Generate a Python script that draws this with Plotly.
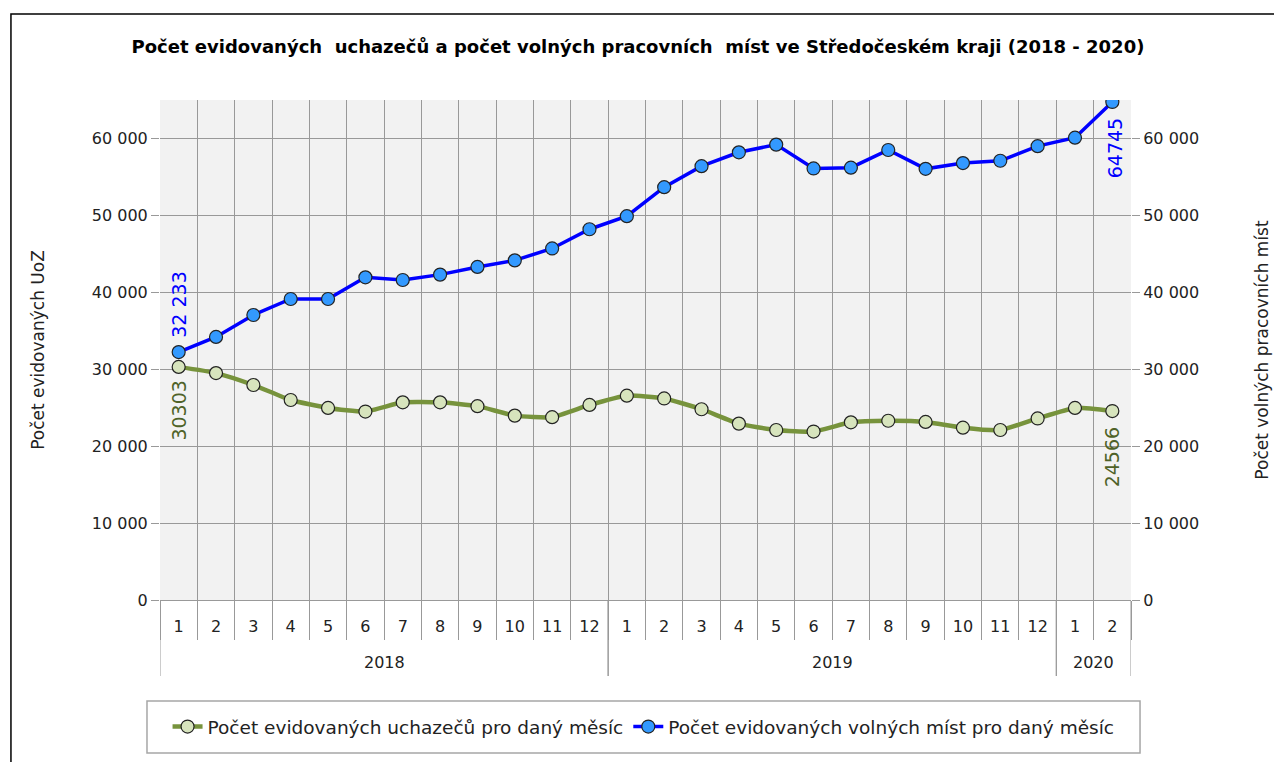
import plotly.graph_objects as go

years = ["2018"] * 12 + ["2019"] * 12 + ["2020"] * 2
months = [str(m) for m in range(1, 13)] * 2 + ["1", "2"]

uchazeci = [30303, 29500, 27950, 26000, 24970, 24500, 25700, 25700, 25200, 23970, 23770, 25360,
            26560, 26200, 24800, 22930, 22100, 21900, 23100, 23300, 23150, 22400, 22100, 23600,
            24970, 24566]
volna_mista = [32233, 34200, 37050, 39130, 39130, 41950, 41600, 42300, 43300, 44150, 45700, 48200,
               49900, 53670, 56400, 58200, 59200, 56100, 56200, 58500, 56050, 56800, 57100, 59000,
               60100, 64745]

name_uch = "Počet evidovaných uchazečů pro daný měsíc"
name_vm = "Počet evidovaných volných míst pro daný měsíc"
title = "Počet evidovaných  uchazečů a počet volných pracovních  míst ve Středočeském kraji (2018 - 2020)"

FONT = "DejaVu Sans"
GREEN = "#77933c"
BLUE = "#0000ff"
GRID = "#999999"

n = len(months)
idx = list(range(n))

fig = go.Figure()
fig.add_trace(go.Scatter(
    x=idx, y=uchazeci, name=name_uch, mode="lines+markers",
    line=dict(color=GREEN, width=4.5, shape="spline", smoothing=0.5),
    marker=dict(size=13, color="#d7e4bd", line=dict(color="#222222", width=1.2)),
))
fig.add_trace(go.Scatter(
    x=idx, y=volna_mista, name=name_vm, mode="lines+markers", yaxis="y2",
    line=dict(color=BLUE, width=3.5),
    marker=dict(size=13, color="#3399ff", line=dict(color="#222222", width=1.2)),
))

# first / last value labels, rotated like the original
labels = [
    (0, volna_mista[0], "y2", "32 233", BLUE, "bottom", 12, 0),
    (0, uchazeci[0], "y", str(uchazeci[0]), "#4f6228", "top", -12, 0),
    (n - 1, volna_mista[-1], "y2", str(volna_mista[-1]), BLUE, "top", -14, 3),
    (n - 1, uchazeci[-1], "y", str(uchazeci[-1]), "#4f6228", "top", -14, 0),
]
annotations = []
for xi, val, yref, txt, col, yanch, ysh, xsh in labels:
    annotations.append(dict(
        x=xi, y=val, xref="x", yref=yref, text=txt, showarrow=False,
        textangle=-90, yanchor=yanch, yshift=ysh, xshift=xsh,
        font=dict(family=FONT, size=19, color=col),
    ))

# year labels and dividers under the month labels
shapes = []
groups = []
for i, y in enumerate(years):
    if not groups or groups[-1][0] != y:
        groups.append([y, i, i])
    else:
        groups[-1][2] = i
for y, a, b in groups:
    annotations.append(dict(x=(a + b) / 2, y=-0.124, xref="x", yref="paper", text=y,
                            showarrow=False, yanchor="middle",
                            font=dict(family=FONT, size=16, color="#222222")))
    for edge in (a - 0.5, b + 0.5):
        shapes.append(dict(type="line", xref="x", yref="paper", x0=edge, x1=edge,
                           y0=0, y1=-0.152, line=dict(color=GRID, width=1)))

# outer frame and legend box
shapes.append(dict(type="rect", xref="paper", yref="paper", x0=-0.1535, x1=1.25,
                   y0=-0.45, y1=1.172, line=dict(color="black", width=1.5), layer="below"))
shapes.append(dict(type="rect", xref="paper", yref="paper", x0=-0.0134, x1=1.0093,
                   y0=-0.306, y1=-0.202, line=dict(color="#a6a6a6", width=1.5)))

yaxis_common = dict(
    range=[0, 65000], dtick=10000, tickformat=",d", ticks="outside", ticklen=8,
    tickcolor=GRID, showgrid=True, gridcolor=GRID, gridwidth=1,
    tickfont=dict(family=FONT, size=16, color="#222222"), zeroline=False,
)

fig.update_layout(
    width=1282, height=762,
    margin=dict(l=152, r=159, t=92, b=170),
    paper_bgcolor="white", plot_bgcolor="#f2f2f2",
    separators=", ",
    title=dict(text=f"<b>{title}</b>", x=0.4914, xanchor="center", y=0.949, yanchor="middle",
               font=dict(family=FONT, size=18, color="black")),
    font=dict(family=FONT, color="#222222"),
    xaxis=dict(range=[-0.5, n - 0.5], tickvals=idx, ticktext=months, ticks="",
               showgrid=False, zeroline=False, showline=True, linecolor=GRID,
               ticklabelstandoff=12,
               tickfont=dict(family=FONT, size=16, color="#222222"),
               minor=dict(tickvals=[i - 0.5 for i in range(n + 1)], ticks="outside",
                          ticklen=39, tickcolor=GRID, showgrid=True, gridcolor=GRID)),
    yaxis=dict(**yaxis_common, title=dict(text="Počet evidovaných UoZ", standoff=42,
               font=dict(family=FONT, size=17, color="#222222"))),
    yaxis2=dict(**yaxis_common, overlaying="y", side="right",
                title=dict(text="Počet volných pracovních míst", standoff=57,
                           font=dict(family=FONT, size=17, color="#222222"))),
    legend=dict(orientation="h", x=0.498, xanchor="center", y=-0.254, yanchor="middle",
                borderwidth=0, bgcolor="rgba(0,0,0,0)",
                font=dict(family=FONT, size=18.5, color="#222222")),
    annotations=annotations,
    shapes=shapes,
)

fig.write_html("out.html")
